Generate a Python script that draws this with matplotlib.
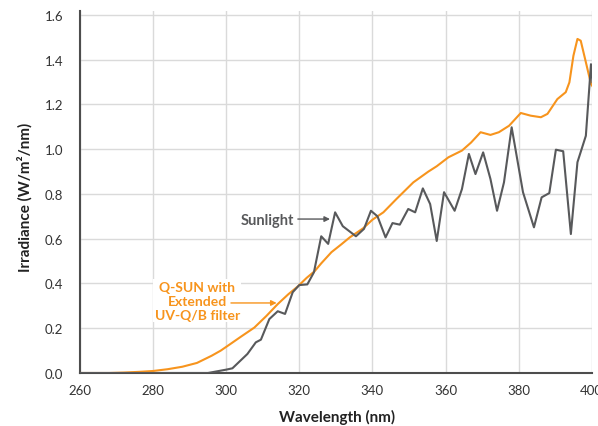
import matplotlib
matplotlib.use("Agg")
import matplotlib.pyplot as plt

plt.rcParams['font.family'] = ['Lato', 'DejaVu Sans']

# Q-SUN lamp with Extended UV-Q/B filter (smooth spectrum)
qsun_wl = [260, 268, 272, 276, 280, 284, 288, 292, 296, 298.5, 301, 304, 307.7,
           311, 314.1, 317, 319.6, 322, 324.2, 326, 328.8, 331.5, 333.8, 337.5,
           340, 343, 346.6, 351.2, 355.3, 357.6, 360.8, 364.5, 367, 369.6,
           372.3, 374.6, 377.4, 380.6, 383.3, 386.1, 387.9, 390.6, 392.9,
           393.9, 395.0, 396.1, 397.0, 398.4, 399.8, 400.7]
qsun_irr = [0.0, 0.0, 0.002, 0.005, 0.009, 0.017, 0.028, 0.045, 0.077, 0.10,
            0.128, 0.162, 0.203, 0.255, 0.308, 0.352, 0.387, 0.425, 0.455,
            0.49, 0.54, 0.575, 0.606, 0.647, 0.685, 0.718, 0.778, 0.852, 0.90,
            0.924, 0.964, 0.994, 1.03, 1.076, 1.064, 1.076, 1.105, 1.162, 1.15,
            1.143, 1.158, 1.224, 1.255, 1.299, 1.418, 1.493, 1.485, 1.389,
            1.292, 1.269]

# Measured sunlight spectrum
sun_wl = [260, 295, 300, 301.7, 305.8, 308.1, 309.5, 311.8, 314.1, 316.1,
          318.2, 320.0, 322.2, 324.0, 326.0, 327.9, 329.8, 331.9, 335.5,
          337.7, 339.6, 341.4, 343.6, 345.5, 347.5, 349.8, 351.7, 353.8,
          355.8, 357.6, 359.6, 362.5, 364.5, 366.4, 368.2, 370.3, 372.3,
          374.1, 376.0, 378.1, 381.2, 384.2, 386.3, 388.4, 390.2, 392.2,
          394.3, 396.1, 398.4, 399.8, 400.2]
sun_irr = [0.0, 0.0, 0.015, 0.021, 0.085, 0.137, 0.149, 0.241, 0.276, 0.264,
           0.361, 0.393, 0.396, 0.45, 0.611, 0.577, 0.718, 0.656, 0.611, 0.644,
           0.725, 0.70, 0.606, 0.67, 0.663, 0.733, 0.718, 0.825, 0.755, 0.59,
           0.808, 0.725, 0.822, 0.979, 0.889, 0.986, 0.867, 0.725, 0.852,
           1.098, 0.808, 0.651, 0.785, 0.804, 0.998, 0.991, 0.621, 0.942,
           1.06, 1.38, 1.30]

x_ticks = [260, 280, 300, 320, 340, 360, 380, 400]
y_ticks = [0.0, 0.2, 0.4, 0.6, 0.8, 1.0, 1.2, 1.4, 1.6]

orange = '#F7941D'
gray = '#58595B'

fig = plt.figure(figsize=(5.98, 4.27), dpi=100)
ax = fig.add_axes([80 / 598, 53 / 427, 511.7 / 598, 362.5 / 427])

ax.plot(qsun_wl, qsun_irr, color=orange, lw=1.5, zorder=3)
ax.plot(sun_wl, sun_irr, color=gray, lw=1.5, zorder=3)

ax.set_xlim(260, 400)
ax.set_ylim(0, 1.62)
ax.set_xticks(x_ticks)
ax.set_yticks(y_ticks)
ax.set_yticklabels([f'{v:.1f}' for v in y_ticks])
ax.grid(True, color='#DADADA', lw=1, zorder=0)
ax.set_axisbelow(True)
ax.tick_params(length=0, labelsize=9.5, labelcolor='#333333')
ax.tick_params(axis='y', pad=12)
ax.tick_params(axis='x', pad=8)

for side in ['top', 'right']:
    ax.spines[side].set_visible(False)
for side in ['left', 'bottom']:
    ax.spines[side].set_color('#4D4D4D')
    ax.spines[side].set_linewidth(1.5)

ax.set_xlabel('Wavelength (nm)', fontsize=11, fontweight='bold', color='#222222')
ax.set_ylabel('Irradiance (W/m²/nm)', fontsize=11, fontweight='bold', color='#222222')
ax.xaxis.set_label_coords(0.5017, -0.1205)
ax.xaxis.label.set_va('center')
ax.yaxis.set_label_coords(-0.1075, 0.488)
ax.yaxis.label.set_va('center')

# callouts
box = dict(facecolor='white', edgecolor='none', pad=1)
ax.text(318.5, 0.685, 'Sunlight', color=gray, fontsize=10.5, fontweight='bold',
        ha='right', va='center', bbox=box, zorder=4)
ax.annotate('', xy=(328.4, 0.688), xytext=(319.6, 0.688),
            arrowprops=dict(arrowstyle='-|>', color=gray, lw=1,
                            mutation_scale=8, shrinkA=0, shrinkB=0), zorder=4)

ax.text(292.1, 0.323, 'Q-SUN with\nExtended\nUV-Q/B filter', color=orange,
        fontsize=10, fontweight='bold', ha='center', va='center',
        linespacing=1.2, bbox=box, zorder=4)
ax.annotate('', xy=(313.8, 0.313), xytext=(301.3, 0.313),
            arrowprops=dict(arrowstyle='-|>', color=orange, lw=1,
                            mutation_scale=8, shrinkA=0, shrinkB=0), zorder=4)

fig.savefig('out.png', dpi=100)
